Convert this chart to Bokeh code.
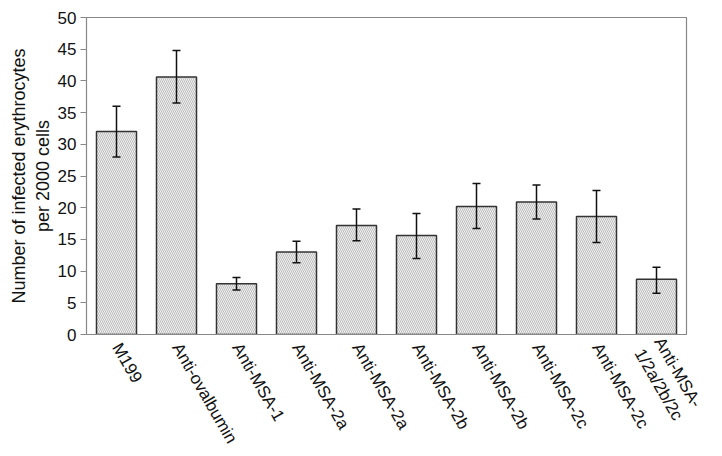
from bokeh.plotting import figure
from bokeh.models import ColumnDataSource, Whisker, FixedTicker, Range1d, TeeHead
from bokeh.embed import file_html
from bokeh.resources import INLINE
import math

labels = ["M199", "Anti-ovalbumin", "Anti-MSA-1", "Anti-MSA-2a", "Anti-MSA-2a",
          "Anti-MSA-2b", "Anti-MSA-2b", "Anti-MSA-2c", "Anti-MSA-2c", "Anti-MSA-\n1/2a/2b/2c"]
values = [32.0, 40.6, 8.0, 13.0, 17.2, 15.6, 20.2, 20.9, 18.6, 8.7]
err_low = [28.0, 36.5, 7.0, 11.3, 14.8, 12.0, 16.7, 18.2, 14.5, 6.5]
err_high = [36.0, 44.8, 9.0, 14.7, 19.8, 19.1, 23.8, 23.6, 22.7, 10.6]
yticks = [0, 5, 10, 15, 20, 25, 30, 35, 40, 45, 50]

xs = list(range(len(labels)))
src = ColumnDataSource(dict(x=xs, top=values, lower=err_low, upper=err_high))

FONT = "Liberation Sans"

p = figure(width=706, height=454, output_backend="svg", toolbar_location=None,
           x_range=Range1d(-0.5, len(labels) - 0.5), y_range=Range1d(0, 50))
p.min_border_left = 86
p.min_border_right = 20
p.min_border_top = 17
p.min_border_bottom = 120

p.vbar(x="x", top="top", width=0.667, bottom=0, source=src,
       fill_color="#f0f0f0", line_color="#333333", line_width=1.5,
       hatch_pattern="\\", hatch_color="#9a9a9a", hatch_scale=4, hatch_weight=0.6)

w = Whisker(source=src, base="x", upper="upper", lower="lower", level="overlay",
            line_color="#111111", line_width=1.5,
            upper_head=TeeHead(size=8, line_color="#111111", line_width=1.5),
            lower_head=TeeHead(size=8, line_color="#111111", line_width=1.5))
p.add_layout(w)

p.xgrid.visible = False
p.ygrid.visible = False
p.outline_line_color = "#888888"
p.outline_line_width = 1.2

p.yaxis.ticker = FixedTicker(ticks=yticks)
p.yaxis.minor_tick_line_color = None
p.yaxis.major_tick_out = 6
p.yaxis.major_tick_in = 0
p.yaxis.axis_line_color = "#888888"
p.yaxis.major_tick_line_color = "#888888"
p.yaxis.major_label_text_font = FONT
p.yaxis.major_label_text_font_size = "17px"
p.yaxis.major_label_text_color = "#111111"
p.yaxis.major_label_standoff = 4
p.yaxis.axis_label = "Number of infected erythrocytes\nper 2000 cells"
p.yaxis.axis_label_text_font = FONT
p.yaxis.axis_label_text_font_size = "18px"
p.yaxis.axis_label_text_font_style = "normal"
p.yaxis.axis_label_text_color = "#111111"
p.yaxis.axis_label_standoff = 2

p.xaxis.ticker = FixedTicker(ticks=xs)
p.xaxis.major_label_overrides = {i: lab for i, lab in enumerate(labels)}
p.xaxis.major_label_orientation = -math.pi / 3
p.xaxis.major_tick_line_color = None
p.xaxis.minor_tick_line_color = None
p.xaxis.axis_line_color = "#888888"
p.xaxis.major_label_text_font = FONT
p.xaxis.major_label_text_font_size = "17px"
p.xaxis.major_label_text_color = "#111111"
p.xaxis.major_label_standoff = 4

open("out.html", "w").write(file_html(p, INLINE))
